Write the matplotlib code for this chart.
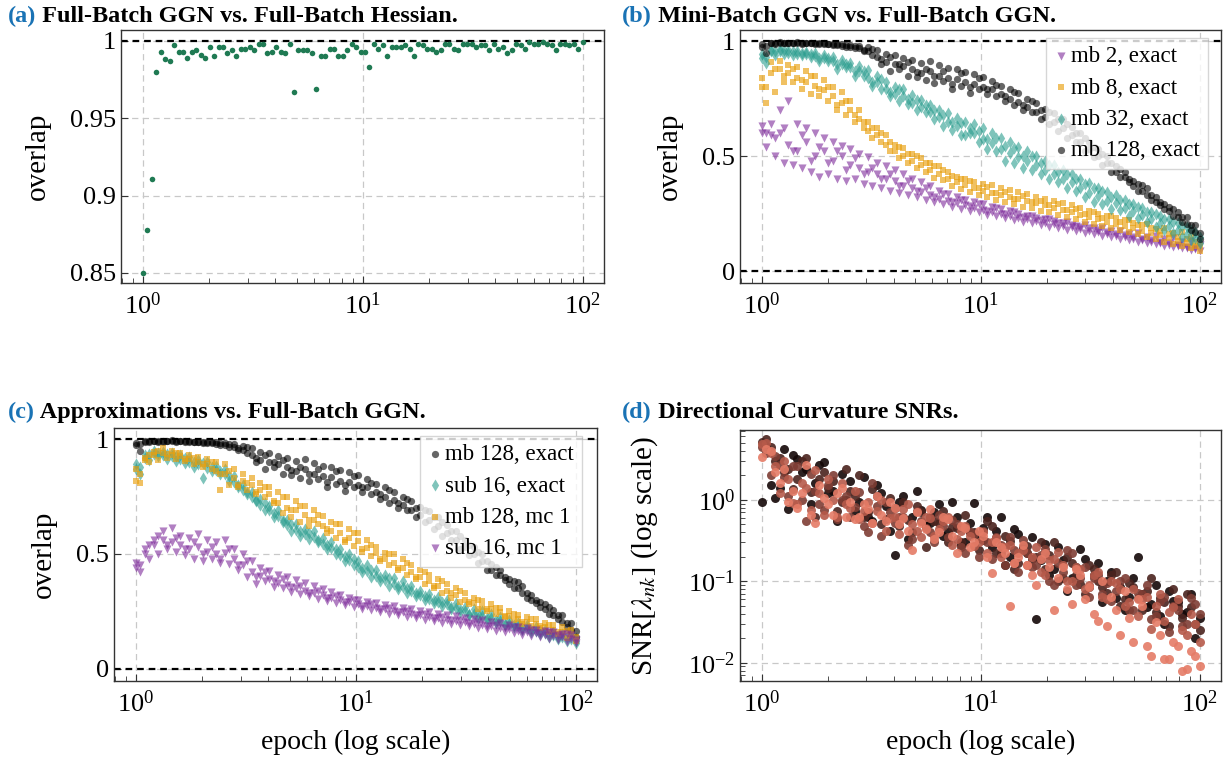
import numpy as np
import matplotlib
matplotlib.use("Agg")
import matplotlib.pyplot as plt
from matplotlib.ticker import LogLocator, NullFormatter

plt.rcParams['font.family'] = 'serif'
plt.rcParams['font.serif'] = ['Liberation Serif', 'DejaVu Serif']
plt.rcParams['mathtext.fontset'] = 'stix'

# epochs (log spaced, 100 checkpoints)
epochs = [1.000, 1.048, 1.097, 1.150, 1.205, 1.262, 1.322, 1.385, 1.451, 1.520,
          1.592, 1.668, 1.748, 1.831, 1.918, 2.009, 2.105, 2.205, 2.310, 2.420,
          2.535, 2.656, 2.783, 2.915, 3.054, 3.199, 3.352, 3.511, 3.678, 3.854,
          4.037, 4.229, 4.431, 4.642, 4.863, 5.094, 5.337, 5.591, 5.857, 6.136,
          6.428, 6.734, 7.055, 7.391, 7.743, 8.111, 8.498, 8.902, 9.326, 9.770,
          10.24, 10.72, 11.23, 11.77, 12.33, 12.92, 13.53, 14.17, 14.85, 15.56,
          16.30, 17.07, 17.89, 18.74, 19.63, 20.57, 21.54, 22.57, 23.64, 24.77,
          25.95, 27.19, 28.48, 29.84, 31.26, 32.75, 34.30, 35.94, 37.65, 39.44,
          41.32, 43.29, 45.35, 47.51, 49.77, 52.14, 54.62, 57.22, 59.95, 62.80,
          65.79, 68.93, 72.21, 75.65, 79.25, 83.02, 86.97, 91.11, 95.45, 100.0]
ep_even = epochs[0::2]
ep_odd = epochs[1::2]

# (a) full-batch GGN vs full-batch Hessian
overlap_a = [0.850, 0.878, 0.911, 0.980, 0.993, 0.988, 0.987, 0.997, 0.993, 0.993,
             0.989, 0.993, 0.994, 0.991, 0.989, 0.996, 0.990, 0.996, 0.996, 0.992,
             0.994, 0.990, 0.995, 0.995, 0.996, 0.994, 0.998, 0.998, 0.992, 0.993,
             0.996, 0.993, 0.992, 0.998, 0.967, 0.994, 0.994, 0.994, 0.992, 0.969,
             0.990, 0.990, 0.995, 0.995, 0.990, 0.990, 0.994, 0.998, 0.996, 0.993,
             0.993, 0.983, 0.998, 0.995, 0.997, 0.990, 0.996, 0.996, 0.996, 0.997,
             0.995, 0.990, 0.998, 0.997, 0.995, 0.995, 0.993, 0.994, 0.998, 0.998,
             0.995, 0.994, 0.998, 0.998, 0.998, 0.996, 0.997, 0.997, 0.994, 0.998,
             0.995, 0.996, 0.992, 0.994, 0.998, 0.997, 0.995, 0.999, 0.998, 0.998,
             0.999, 0.998, 0.997, 0.994, 0.998, 0.998, 0.997, 0.998, 0.995, 0.999]

# (b) mini-batch GGN vs full-batch GGN
# four bands per series: hi (even epochs), lo (odd), mid (even), x (odd)
mb2_hi = [0.630, 0.640, 0.600, 0.740, 0.640, 0.620, 0.600, 0.580, 0.560, 0.545,
          0.530, 0.510, 0.495, 0.470, 0.455, 0.440, 0.420, 0.400, 0.385, 0.370,
          0.350, 0.335, 0.320, 0.310, 0.300, 0.290, 0.280, 0.270, 0.260, 0.250,
          0.240, 0.232, 0.225, 0.218, 0.210, 0.200, 0.192, 0.185, 0.178, 0.170,
          0.163, 0.155, 0.148, 0.140, 0.133, 0.126, 0.120, 0.113, 0.106, 0.100]
mb2_lo = [0.540, 0.500, 0.470, 0.460, 0.450, 0.430, 0.410, 0.420, 0.400, 0.390,
          0.400, 0.380, 0.370, 0.360, 0.350, 0.340, 0.330, 0.320, 0.310, 0.300,
          0.290, 0.280, 0.270, 0.262, 0.255, 0.245, 0.238, 0.230, 0.222, 0.215,
          0.208, 0.200, 0.192, 0.186, 0.180, 0.173, 0.166, 0.160, 0.153, 0.146,
          0.140, 0.134, 0.128, 0.122, 0.116, 0.110, 0.104, 0.098, 0.092, 0.085]
mb2_mid = [0.600, 0.590, 0.700, 0.550, 0.520, 0.560, 0.500, 0.520, 0.480, 0.500,
           0.460, 0.450, 0.430, 0.420, 0.400, 0.390, 0.370, 0.360, 0.345, 0.330,
           0.315, 0.305, 0.295, 0.285, 0.275, 0.265, 0.255, 0.248, 0.240, 0.232,
           0.225, 0.218, 0.210, 0.203, 0.196, 0.190, 0.182, 0.175, 0.168, 0.160,
           0.154, 0.147, 0.140, 0.133, 0.126, 0.120, 0.114, 0.108, 0.101, 0.095]
mb2_x = [0.600, 0.580, 0.620, 0.520, 0.590, 0.480, 0.540, 0.470, 0.520, 0.440,
         0.490, 0.420, 0.450, 0.400, 0.420, 0.370, 0.390, 0.350, 0.360, 0.320,
         0.335, 0.300, 0.310, 0.282, 0.290, 0.262, 0.272, 0.250, 0.255, 0.236,
         0.240, 0.222, 0.226, 0.210, 0.212, 0.196, 0.200, 0.186, 0.188, 0.172,
         0.176, 0.160, 0.165, 0.150, 0.154, 0.140, 0.142, 0.128, 0.130, 0.115]

mb8_hi = [0.840, 0.910, 0.915, 0.895, 0.885, 0.870, 0.850, 0.830, 0.800, 0.780,
          0.740, 0.700, 0.650, 0.620, 0.590, 0.550, 0.535, 0.510, 0.490, 0.470,
          0.455, 0.430, 0.410, 0.400, 0.385, 0.380, 0.372, 0.360, 0.352, 0.345,
          0.335, 0.322, 0.315, 0.305, 0.295, 0.285, 0.275, 0.262, 0.250, 0.240,
          0.232, 0.220, 0.210, 0.198, 0.188, 0.175, 0.162, 0.150, 0.140, 0.125]
mb8_lo = [0.730, 0.780, 0.850, 0.820, 0.790, 0.770, 0.760, 0.740, 0.720, 0.680,
          0.650, 0.620, 0.580, 0.560, 0.520, 0.490, 0.470, 0.450, 0.430, 0.405,
          0.395, 0.370, 0.355, 0.345, 0.330, 0.320, 0.310, 0.300, 0.292, 0.280,
          0.272, 0.262, 0.255, 0.245, 0.235, 0.225, 0.215, 0.205, 0.196, 0.188,
          0.180, 0.170, 0.160, 0.150, 0.140, 0.128, 0.118, 0.108, 0.098, 0.088]
mb8_mid = [0.800, 0.860, 0.880, 0.860, 0.840, 0.820, 0.805, 0.785, 0.760, 0.730,
           0.700, 0.660, 0.610, 0.590, 0.550, 0.520, 0.500, 0.480, 0.460, 0.440,
           0.420, 0.400, 0.385, 0.375, 0.360, 0.350, 0.340, 0.330, 0.322, 0.312,
           0.305, 0.295, 0.285, 0.275, 0.265, 0.255, 0.245, 0.235, 0.225, 0.215,
           0.205, 0.195, 0.185, 0.175, 0.165, 0.155, 0.145, 0.132, 0.120, 0.108]
mb8_x = [0.800, 0.880, 0.820, 0.880, 0.830, 0.850, 0.790, 0.800, 0.700, 0.740,
         0.680, 0.650, 0.620, 0.600, 0.560, 0.540, 0.510, 0.500, 0.470, 0.455,
         0.440, 0.415, 0.400, 0.390, 0.360, 0.365, 0.340, 0.345, 0.315, 0.325,
         0.300, 0.305, 0.285, 0.290, 0.265, 0.270, 0.250, 0.255, 0.232, 0.240,
         0.215, 0.222, 0.200, 0.205, 0.182, 0.188, 0.165, 0.170, 0.148, 0.115]

mb32_hi = [0.945, 0.962, 0.965, 0.960, 0.958, 0.952, 0.948, 0.938, 0.930, 0.918,
           0.905, 0.890, 0.872, 0.850, 0.822, 0.800, 0.790, 0.765, 0.742, 0.720,
           0.700, 0.688, 0.665, 0.650, 0.640, 0.620, 0.600, 0.580, 0.560, 0.538,
           0.520, 0.500, 0.478, 0.462, 0.440, 0.420, 0.400, 0.382, 0.362, 0.345,
           0.330, 0.310, 0.290, 0.272, 0.255, 0.240, 0.225, 0.210, 0.190, 0.170]
mb32_lo = [0.905, 0.940, 0.945, 0.940, 0.938, 0.930, 0.925, 0.912, 0.900, 0.885,
           0.870, 0.850, 0.805, 0.790, 0.760, 0.740, 0.725, 0.700, 0.690, 0.660,
           0.630, 0.612, 0.590, 0.600, 0.560, 0.530, 0.520, 0.480, 0.470, 0.450,
           0.440, 0.420, 0.400, 0.385, 0.360, 0.350, 0.320, 0.300, 0.290, 0.270,
           0.265, 0.240, 0.230, 0.215, 0.190, 0.180, 0.165, 0.150, 0.135, 0.120]
mb32_mid = [0.925, 0.955, 0.958, 0.950, 0.945, 0.945, 0.935, 0.925, 0.915, 0.900,
            0.885, 0.870, 0.840, 0.820, 0.790, 0.770, 0.760, 0.730, 0.715, 0.690,
            0.670, 0.650, 0.630, 0.590, 0.600, 0.575, 0.555, 0.530, 0.515, 0.495,
            0.480, 0.460, 0.440, 0.420, 0.400, 0.385, 0.360, 0.340, 0.325, 0.305,
            0.295, 0.275, 0.260, 0.245, 0.225, 0.210, 0.195, 0.180, 0.160, 0.145]
mb32_x = [0.930, 0.955, 0.960, 0.955, 0.950, 0.942, 0.915, 0.925, 0.880, 0.900,
          0.850, 0.870, 0.820, 0.835, 0.780, 0.790, 0.750, 0.745, 0.720, 0.700,
          0.680, 0.650, 0.645, 0.620, 0.610, 0.575, 0.580, 0.545, 0.535, 0.500,
          0.500, 0.470, 0.460, 0.430, 0.420, 0.400, 0.380, 0.360, 0.350, 0.320,
          0.310, 0.290, 0.280, 0.255, 0.250, 0.225, 0.215, 0.195, 0.180, 0.150]

mb128_hi = [0.985, 0.992, 0.994, 0.993, 0.995, 0.993, 0.992, 0.990, 0.988, 0.986,
            0.984, 0.978, 0.972, 0.962, 0.945, 0.938, 0.925, 0.918, 0.905, 0.912,
            0.895, 0.882, 0.878, 0.865, 0.858, 0.842, 0.825, 0.805, 0.790, 0.772,
            0.748, 0.730, 0.705, 0.688, 0.660, 0.625, 0.600, 0.560, 0.530, 0.500,
            0.455, 0.430, 0.392, 0.376, 0.330, 0.300, 0.280, 0.255, 0.235, 0.200]
mb128_lo = [0.950, 0.988, 0.990, 0.991, 0.989, 0.990, 0.987, 0.985, 0.982, 0.975,
            0.968, 0.960, 0.940, 0.900, 0.870, 0.880, 0.850, 0.865, 0.830, 0.818,
            0.825, 0.790, 0.805, 0.775, 0.790, 0.770, 0.760, 0.740, 0.720, 0.700,
            0.690, 0.660, 0.640, 0.610, 0.580, 0.560, 0.520, 0.495, 0.460, 0.430,
            0.410, 0.385, 0.350, 0.330, 0.300, 0.270, 0.240, 0.215, 0.180, 0.140]
mb128_mid = [0.975, 0.990, 0.992, 0.990, 0.992, 0.991, 0.989, 0.987, 0.984, 0.980,
             0.976, 0.968, 0.955, 0.930, 0.910, 0.900, 0.890, 0.880, 0.860, 0.870,
             0.850, 0.840, 0.835, 0.820, 0.815, 0.800, 0.790, 0.770, 0.750, 0.735,
             0.715, 0.690, 0.670, 0.650, 0.620, 0.590, 0.560, 0.530, 0.500, 0.470,
             0.430, 0.410, 0.370, 0.350, 0.310, 0.285, 0.260, 0.235, 0.205, 0.170]
mb128_x = [0.980, 0.992, 0.993, 0.992, 0.993, 0.992, 0.990, 0.988, 0.986, 0.982,
           0.978, 0.955, 0.965, 0.920, 0.930, 0.900, 0.910, 0.845, 0.880, 0.850,
           0.870, 0.815, 0.860, 0.800, 0.840, 0.790, 0.810, 0.760, 0.780, 0.720,
           0.740, 0.700, 0.690, 0.660, 0.640, 0.600, 0.580, 0.540, 0.510, 0.470,
           0.445, 0.400, 0.380, 0.360, 0.320, 0.290, 0.270, 0.235, 0.200, 0.165]

# (c) approximations vs full-batch GGN
sub16e_hi = [0.890, 0.930, 0.950, 0.945, 0.940, 0.930, 0.922, 0.910, 0.900, 0.885,
             0.870, 0.840, 0.800, 0.770, 0.740, 0.710, 0.690, 0.650, 0.630, 0.610,
             0.600, 0.570, 0.550, 0.520, 0.500, 0.470, 0.450, 0.430, 0.410, 0.395,
             0.380, 0.360, 0.340, 0.325, 0.312, 0.300, 0.285, 0.270, 0.260, 0.250,
             0.240, 0.225, 0.210, 0.200, 0.190, 0.180, 0.170, 0.160, 0.152, 0.145]
sub16e_lo = [0.850, 0.910, 0.925, 0.915, 0.905, 0.895, 0.880, 0.830, 0.860, 0.850,
             0.840, 0.790, 0.760, 0.730, 0.690, 0.660, 0.640, 0.600, 0.580, 0.565,
             0.550, 0.520, 0.500, 0.470, 0.450, 0.420, 0.400, 0.380, 0.360, 0.345,
             0.330, 0.315, 0.300, 0.285, 0.272, 0.260, 0.245, 0.232, 0.220, 0.210,
             0.200, 0.190, 0.180, 0.170, 0.160, 0.150, 0.140, 0.130, 0.120, 0.110]
sub16e_mid = [0.870, 0.920, 0.935, 0.930, 0.925, 0.915, 0.900, 0.890, 0.875, 0.865,
              0.850, 0.815, 0.780, 0.750, 0.715, 0.690, 0.665, 0.625, 0.605, 0.585,
              0.575, 0.545, 0.525, 0.495, 0.475, 0.445, 0.425, 0.405, 0.385, 0.370,
              0.355, 0.338, 0.320, 0.305, 0.292, 0.280, 0.265, 0.252, 0.240, 0.230,
              0.220, 0.208, 0.195, 0.185, 0.175, 0.165, 0.155, 0.145, 0.136, 0.128]
sub16e_x = [0.880, 0.935, 0.940, 0.935, 0.925, 0.918, 0.900, 0.895, 0.880, 0.860,
            0.820, 0.800, 0.770, 0.735, 0.720, 0.680, 0.650, 0.630, 0.600, 0.590,
            0.560, 0.540, 0.520, 0.490, 0.480, 0.440, 0.430, 0.400, 0.395, 0.360,
            0.350, 0.330, 0.318, 0.300, 0.290, 0.270, 0.262, 0.240, 0.236, 0.220,
            0.212, 0.196, 0.190, 0.176, 0.170, 0.158, 0.152, 0.140, 0.136, 0.120]

mb128mc_hi = [0.870, 0.920, 0.945, 0.960, 0.950, 0.940, 0.932, 0.922, 0.912, 0.900,
              0.890, 0.870, 0.850, 0.830, 0.810, 0.790, 0.770, 0.750, 0.730, 0.710,
              0.690, 0.665, 0.640, 0.630, 0.610, 0.590, 0.560, 0.530, 0.505, 0.500,
              0.480, 0.450, 0.430, 0.410, 0.390, 0.370, 0.350, 0.330, 0.310, 0.295,
              0.280, 0.265, 0.250, 0.235, 0.225, 0.215, 0.200, 0.190, 0.180, 0.170]
mb128mc_lo = [0.810, 0.900, 0.910, 0.920, 0.915, 0.905, 0.890, 0.880, 0.870, 0.780,
              0.800, 0.790, 0.780, 0.770, 0.750, 0.720, 0.680, 0.660, 0.640, 0.620,
              0.630, 0.590, 0.570, 0.550, 0.535, 0.520, 0.490, 0.480, 0.450, 0.430,
              0.410, 0.390, 0.370, 0.350, 0.330, 0.310, 0.290, 0.280, 0.260, 0.250,
              0.240, 0.225, 0.210, 0.195, 0.185, 0.175, 0.160, 0.150, 0.135, 0.120]
mb128mc_mid = [0.820, 0.910, 0.930, 0.940, 0.930, 0.925, 0.915, 0.900, 0.890, 0.860,
               0.850, 0.830, 0.820, 0.800, 0.780, 0.760, 0.720, 0.700, 0.690, 0.670,
               0.650, 0.620, 0.600, 0.590, 0.570, 0.555, 0.525, 0.505, 0.480, 0.460,
               0.440, 0.420, 0.400, 0.380, 0.360, 0.340, 0.320, 0.300, 0.285, 0.270,
               0.258, 0.245, 0.230, 0.215, 0.205, 0.195, 0.180, 0.170, 0.158, 0.145]
mb128mc_x = [0.850, 0.930, 0.950, 0.935, 0.940, 0.915, 0.920, 0.890, 0.900, 0.850,
             0.860, 0.800, 0.810, 0.760, 0.790, 0.730, 0.750, 0.690, 0.710, 0.650,
             0.670, 0.610, 0.630, 0.560, 0.590, 0.510, 0.540, 0.470, 0.500, 0.440,
             0.460, 0.400, 0.420, 0.360, 0.380, 0.330, 0.340, 0.290, 0.300, 0.260,
             0.265, 0.230, 0.240, 0.205, 0.215, 0.185, 0.190, 0.160, 0.165, 0.140]

sub16mc_hi = [0.460, 0.520, 0.560, 0.600, 0.615, 0.580, 0.570, 0.585, 0.560, 0.550,
              0.560, 0.520, 0.500, 0.470, 0.440, 0.425, 0.410, 0.400, 0.385, 0.375,
              0.360, 0.345, 0.335, 0.320, 0.310, 0.300, 0.292, 0.285, 0.278, 0.272,
              0.266, 0.258, 0.252, 0.246, 0.240, 0.234, 0.228, 0.222, 0.216, 0.210,
              0.204, 0.197, 0.190, 0.183, 0.176, 0.170, 0.164, 0.158, 0.152, 0.146]
sub16mc_lo = [0.420, 0.480, 0.500, 0.520, 0.510, 0.495, 0.480, 0.470, 0.480, 0.460,
              0.455, 0.430, 0.400, 0.370, 0.380, 0.355, 0.350, 0.335, 0.325, 0.315,
              0.305, 0.295, 0.285, 0.278, 0.270, 0.262, 0.255, 0.248, 0.240, 0.232,
              0.226, 0.220, 0.213, 0.207, 0.200, 0.195, 0.190, 0.184, 0.178, 0.172,
              0.166, 0.160, 0.154, 0.148, 0.142, 0.136, 0.130, 0.124, 0.118, 0.110]
sub16mc_mid = [0.440, 0.500, 0.540, 0.560, 0.550, 0.540, 0.520, 0.530, 0.510, 0.500,
               0.505, 0.480, 0.450, 0.420, 0.405, 0.390, 0.375, 0.365, 0.350, 0.340,
               0.330, 0.320, 0.310, 0.300, 0.290, 0.282, 0.274, 0.266, 0.258, 0.252,
               0.245, 0.238, 0.232, 0.226, 0.220, 0.214, 0.208, 0.202, 0.196, 0.190,
               0.184, 0.178, 0.172, 0.166, 0.160, 0.154, 0.148, 0.142, 0.136, 0.130]
sub16mc_x = [0.450, 0.540, 0.580, 0.540, 0.570, 0.520, 0.550, 0.500, 0.530, 0.480,
             0.520, 0.450, 0.470, 0.400, 0.420, 0.380, 0.390, 0.355, 0.360, 0.330,
             0.340, 0.310, 0.318, 0.290, 0.300, 0.275, 0.280, 0.258, 0.265, 0.245,
             0.250, 0.232, 0.238, 0.220, 0.226, 0.210, 0.214, 0.198, 0.204, 0.186,
             0.192, 0.176, 0.180, 0.165, 0.170, 0.155, 0.160, 0.145, 0.150, 0.125]

# (d) directional curvature SNRs, five directions (dark -> light), even / odd epochs
snr0_even = [0.95, 1.5, 1.4, 0.78, 3.2, 2.4, 1.6, 2.9, 1.3, 2.1,
             1.7, 0.95, 0.62, 1.5, 0.85, 0.21, 1.1, 0.62, 0.75, 0.52,
             0.88, 0.40, 0.62, 0.30, 0.92, 0.45, 0.26, 0.62, 0.20, 0.38,
             0.22, 0.034, 0.29, 0.14, 0.18, 0.11, 0.25, 0.085, 0.17, 0.10,
             0.062, 0.045, 0.11, 0.070, 0.052, 0.038, 0.075, 0.055, 0.042, 0.020]
snr0_odd = [4.6, 1.05, 4.2, 3.6, 2.2, 0.9, 2.7, 1.2, 0.55, 1.0,
            0.72, 1.9, 0.55, 1.2, 0.42, 0.95, 0.33, 1.3, 0.48, 0.70,
            0.36, 0.95, 0.28, 0.52, 0.34, 0.62, 0.42, 0.16, 0.44, 0.26,
            0.35, 0.18, 0.12, 0.26, 0.075, 0.15, 0.19, 0.12, 0.055, 0.13,
            0.085, 0.065, 0.20, 0.048, 0.09, 0.030, 0.058, 0.040, 0.07, 0.035]
snr1_even = [5.2, 4.4, 3.3, 2.4, 1.8, 3.3, 0.62, 2.2, 1.7, 0.95,
             1.3, 2.0, 0.70, 1.1, 0.58, 0.80, 0.95, 0.40, 0.70, 0.62,
             0.52, 0.30, 0.45, 0.66, 0.40, 0.32, 0.48, 0.22, 0.31, 0.17,
             0.27, 0.20, 0.14, 0.30, 0.11, 0.17, 0.092, 0.16, 0.10, 0.072,
             0.13, 0.06, 0.085, 0.045, 0.11, 0.062, 0.028, 0.05, 0.070, 0.03]
snr1_odd = [5.6, 3.0, 2.2, 1.35, 3.0, 1.25, 1.8, 1.4, 0.72, 2.4,
            1.1, 0.62, 1.35, 0.50, 1.05, 0.48, 0.56, 0.85, 0.26, 0.55,
            0.72, 0.46, 0.30, 0.40, 0.24, 0.55, 0.22, 0.36, 0.14, 0.25,
            0.19, 0.30, 0.21, 0.10, 0.20, 0.12, 0.07, 0.14, 0.085, 0.12,
            0.050, 0.095, 0.062, 0.075, 0.042, 0.055, 0.080, 0.035, 0.048, 0.025]
snr2_even = [4.4, 2.0, 2.7, 1.1, 2.6, 0.55, 1.3, 0.75, 2.0, 1.0,
             0.62, 1.25, 0.40, 0.85, 0.95, 0.52, 0.62, 0.33, 0.55, 0.40,
             0.66, 0.35, 0.50, 0.22, 0.38, 0.42, 0.19, 0.28, 0.35, 0.13,
             0.22, 0.16, 0.25, 0.09, 0.13, 0.22, 0.11, 0.064, 0.12, 0.095,
             0.075, 0.11, 0.045, 0.07, 0.034, 0.058, 0.024, 0.044, 0.03, 0.052]
snr2_odd = [3.8, 3.5, 1.9, 2.6, 1.0, 2.1, 0.88, 1.5, 0.58, 1.1,
            0.82, 0.48, 1.6, 0.36, 0.70, 0.62, 0.28, 0.72, 0.45, 0.30,
            0.48, 0.56, 0.26, 0.40, 0.20, 0.30, 0.35, 0.16, 0.24, 0.32,
            0.15, 0.21, 0.10, 0.17, 0.24, 0.09, 0.15, 0.11, 0.07, 0.058,
            0.10, 0.045, 0.072, 0.09, 0.038, 0.065, 0.05, 0.028, 0.062, 0.04]
snr3_even = [4.9, 3.8, 1.2, 1.8, 0.90, 1.4, 2.3, 0.66, 1.0, 1.6,
             0.80, 0.58, 0.95, 0.72, 0.42, 0.62, 0.78, 0.50, 0.35, 0.60,
             0.44, 0.62, 0.33, 0.48, 0.27, 0.40, 0.30, 0.20, 0.28, 0.22,
             0.16, 0.26, 0.12, 0.19, 0.16, 0.10, 0.14, 0.09, 0.13, 0.06,
             0.095, 0.05, 0.08, 0.06, 0.026, 0.07, 0.042, 0.06, 0.022, 0.03]
snr3_odd = [5.0, 2.6, 3.0, 0.92, 1.6, 0.75, 1.2, 1.8, 0.62, 0.90,
            1.3, 0.72, 0.52, 1.0, 0.60, 0.38, 0.90, 0.42, 0.62, 0.36,
            0.55, 0.28, 0.42, 0.36, 0.30, 0.22, 0.34, 0.26, 0.17, 0.24,
            0.20, 0.13, 0.18, 0.23, 0.10, 0.15, 0.08, 0.12, 0.065, 0.10,
            0.08, 0.055, 0.038, 0.065, 0.05, 0.033, 0.048, 0.025, 0.04, 0.018]
snr4_even = [3.4, 4.0, 1.6, 0.95, 0.80, 2.7, 0.52, 1.05, 0.65, 1.4,
             0.95, 0.62, 0.78, 1.1, 0.55, 0.80, 0.60, 0.24, 0.52, 0.78,
             0.40, 0.58, 0.22, 0.45, 0.30, 0.36, 0.125, 0.26, 0.05, 0.20,
             0.16, 0.09, 0.22, 0.045, 0.15, 0.052, 0.12, 0.085, 0.033, 0.028,
             0.045, 0.075, 0.018, 0.05, 0.012, 0.022, 0.011, 0.016, 0.0085, 0.012]
snr4_odd = [4.2, 2.2, 2.4, 1.3, 1.2, 0.65, 1.5, 0.88, 1.2, 0.62,
            0.58, 0.88, 0.52, 0.66, 0.95, 0.50, 0.42, 0.70, 0.44, 0.33,
            0.62, 0.36, 0.48, 0.26, 0.42, 0.20, 0.30, 0.22, 0.17, 0.28,
            0.12, 0.19, 0.15, 0.11, 0.08, 0.14, 0.06, 0.04, 0.10, 0.065,
            0.022, 0.035, 0.06, 0.016, 0.032, 0.011, 0.018, 0.008, 0.014, 0.009]

c_purple = '#7d2a9a'
c_orange = '#e8a010'
c_teal = '#2a9d8e'
c_black = '#000000'
c_green = '#1f7a53'
snr_colors = ['#140707', '#4a231e', '#7e3d34', '#b65a4a', '#e57b66']
blue = '#1a73b5'

TICK = 19
LABEL = 21
TITLE = 17.5
LEG = 16.5

fig = plt.figure(figsize=(12.31, 7.62), dpi=100)
W, H = 1231.0, 762.0


def make_ax(x0, y0, x1, y1):
    return fig.add_axes([x0 / W, 1 - y1 / H, (x1 - x0) / W, (y1 - y0) / H])


def style(ax):
    ax.set_xscale('log')
    ax.set_xlim(0.794, 125)
    ax.xaxis.set_minor_locator(LogLocator(base=10, subs=np.arange(2, 10)))
    ax.xaxis.set_minor_formatter(NullFormatter())
    ax.grid(True, which='major', color='#c8c8c8', linestyle=(0, (5, 3.5)), linewidth=0.9, zorder=0)
    ax.tick_params(which='both', direction='in', top=False, right=False,
                   colors='#333333', labelcolor='black', labelsize=TICK)
    ax.tick_params(which='major', length=5, width=0.8)
    ax.tick_params(which='minor', length=3.5, width=0.6)
    ax.tick_params(axis='x', pad=7)
    for sp in ax.spines.values():
        sp.set_color('#333333')
        sp.set_linewidth(1.0)
    ax.set_axisbelow(True)


def title(x, y, tag, text):
    t = fig.text(x / W, 1 - y / H, tag, color=blue, fontsize=TITLE, weight='bold', va='baseline')
    fig.axes[0].annotate(text, xy=(1, 0), xycoords=t, fontsize=TITLE, weight='bold',
                         va='bottom', ha='left', annotation_clip=False)


def hline(ax, y):
    ax.axhline(y, color='black', linewidth=1.6, linestyle=(0, (3, 2.2)), zorder=1.5)


def add_legend(ax, handles, anchor):
    leg = ax.legend(handles=handles, loc='upper right', bbox_to_anchor=anchor, fontsize=LEG,
                    fancybox=False, edgecolor='#cccccc', framealpha=0.8, handlelength=0.6,
                    handletextpad=0.15, borderpad=0.35, labelspacing=0.45, borderaxespad=0)
    leg.set_zorder(5)


def draw_series(ax, series):
    handles = []
    for label, mk, col, size, alpha, rows in series:
        for k, row in enumerate(rows):
            xs = ep_odd if k % 2 == 1 else ep_even
            h = ax.scatter(xs, row, s=size, marker=mk, color=col, alpha=alpha,
                           linewidths=0, zorder=2)
            if k == 0:
                h.set_label(label)
                handles.append(h)
    return handles


# ---- (a)
ax_a = make_ax(121, 30, 604, 283)
style(ax_a)
ax_a.scatter(epochs, overlap_a, s=16, color=c_green, linewidths=0, zorder=2)
hline(ax_a, 1.0)
ax_a.set_ylim(0.8435, 1.007)
ax_a.set_yticks([0.85, 0.9, 0.95, 1.0])
ax_a.set_yticklabels(['0.85', '0.9', '0.95', '1'])
ax_a.set_ylabel('overlap', fontsize=LABEL, labelpad=14)

# ---- (b)
ax_b = make_ax(740, 30, 1221, 283)
style(ax_b)
series_b = [
    ('mb 2, exact', 'v', c_purple, 34, 0.6, [mb2_hi, mb2_lo, mb2_mid, mb2_x]),
    ('mb 8, exact', 's', c_orange, 25, 0.65, [mb8_hi, mb8_lo, mb8_mid, mb8_x]),
    ('mb 32, exact', 'd', c_teal, 38, 0.6, [mb32_hi, mb32_lo, mb32_mid, mb32_x]),
    ('mb 128, exact', 'o', c_black, 27, 0.6, [mb128_hi, mb128_lo, mb128_mid, mb128_x]),
]
handles = draw_series(ax_b, series_b)
hline(ax_b, 1.0)
hline(ax_b, 0.0)
ax_b.set_ylim(-0.052, 1.048)
ax_b.set_yticks([0, 0.5, 1])
ax_b.set_yticklabels(['0', '0.5', '1'])
ax_b.set_ylabel('overlap', fontsize=LABEL, labelpad=14)
add_legend(ax_b, handles, (0.973, 0.968))

# ---- (c)
ax_c = make_ax(114, 428, 597, 681)
style(ax_c)
series_c = [
    ('mb 128, exact', 'o', c_black, 27, 0.6, [mb128_hi, mb128_lo, mb128_mid, mb128_x]),
    ('sub 16, exact', 'd', c_teal, 38, 0.6, [sub16e_hi, sub16e_lo, sub16e_mid, sub16e_x]),
    ('mb 128, mc 1', 's', c_orange, 25, 0.65, [mb128mc_hi, mb128mc_lo, mb128mc_mid, mb128mc_x]),
    ('sub 16, mc 1', 'v', c_purple, 34, 0.6, [sub16mc_hi, sub16mc_lo, sub16mc_mid, sub16mc_x]),
]
handles = draw_series(ax_c, series_c)
hline(ax_c, 1.0)
hline(ax_c, 0.0)
ax_c.set_ylim(-0.054, 1.049)
ax_c.set_yticks([0, 0.5, 1])
ax_c.set_yticklabels(['0', '0.5', '1'])
ax_c.set_ylabel('overlap', fontsize=LABEL, labelpad=14)
ax_c.set_xlabel('epoch (log scale)', fontsize=LABEL - 1, labelpad=9)
add_legend(ax_c, handles, (0.969, 0.968))

# ---- (d)
ax_d = make_ax(740, 430, 1221, 681)
style(ax_d)
ax_d.set_yscale('log')
snr_rows = [(snr0_even, snr0_odd), (snr1_even, snr1_odd), (snr2_even, snr2_odd),
            (snr3_even, snr3_odd), (snr4_even, snr4_odd)]
for col, (r_even, r_odd) in zip(snr_colors, snr_rows):
    ax_d.scatter(ep_even, r_even, s=42, color=col, alpha=0.9, linewidths=0, zorder=2)
    ax_d.scatter(ep_odd, r_odd, s=42, color=col, alpha=0.9, linewidths=0, zorder=2)
ax_d.set_ylim(0.00597, 7.2)
ax_d.yaxis.set_major_locator(LogLocator(base=10, numticks=10))
ax_d.yaxis.set_minor_locator(LogLocator(base=10, subs=np.arange(2, 10), numticks=10))
ax_d.yaxis.set_minor_formatter(NullFormatter())
ax_d.set_ylabel(r'SNR$[\lambda_{nk}]$ (log scale)', fontsize=LABEL, labelpad=20)
ax_d.set_xlabel('epoch (log scale)', fontsize=LABEL - 1, labelpad=9)

title(8, 22, '(a)', ' Full-Batch GGN vs. Full-Batch Hessian.')
title(622, 22, '(b)', ' Mini-Batch GGN vs. Full-Batch GGN.')
title(8, 418, '(c)', ' Approximations vs. Full-Batch GGN.')
title(622, 418, '(d)', ' Directional Curvature SNRs.')

fig.savefig('out.png', dpi=100)
